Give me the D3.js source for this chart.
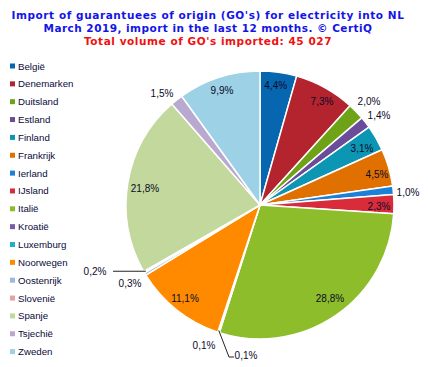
<!DOCTYPE html>
<html><head><meta charset="utf-8">
<script src="https://cdn.jsdelivr.net/npm/d3@7"></script>
<style>body{margin:0;background:#fff}svg{display:block}</style>
</head><body>
<svg id="c" width="428" height="367"></svg>
<script>
const categories = ["België","Denemarken","Duitsland","Estland","Finland","Frankrijk","Ierland","IJsland","Italië","Kroatië","Luxemburg","Noorwegen","Oostenrijk","Slovenië","Spanje","Tsjechië","Zweden"];
const shares = [4.4,7.3,2.0,1.4,3.1,4.5,1.0,2.3,28.8,0.1,0.1,11.1,0.3,0.2,21.8,1.5,9.9];
const labels = ["4,4%","7,3%","2,0%","1,4%","3,1%","4,5%","1,0%","2,3%","28,8%","0,1%","0,1%","11,1%","0,3%","0,2%","21,8%","1,5%","9,9%"];
const colors = ["#0766b0","#b3242f","#6fa317","#6b4c9a","#0d96b4","#e07000","#1b80d6","#d92c3b","#8dbd2a","#7b5aa6","#20b0cc","#ff8a00","#9bb9e0","#e3a3a3","#c3d89c","#b9a9d1","#9dd1e6"];
const titleLines = ["Import of guarantuees of origin (GO's) for electricity into NL","March 2019, import in the last 12 months. © CertiQ","Total volume of GO's imported: 45 027"];

const svg = d3.select("#c");
svg.append("rect").attr("width",428).attr("height",367).attr("fill","#fff");

// title
const tW = [393,329,248], tY=[19,32,45], tC=["#1414e6","#1414e6","#f01010"];
titleLines.forEach((t,i)=>{
  const el = svg.append("text").attr("x",208).attr("y",tY[i]).attr("text-anchor","middle")
    .attr("font-family","DejaVu Sans, Verdana, sans-serif").attr("font-weight","bold")
    .attr("font-size",10.5).attr("fill",tC[i]).text(t);
  const w = el.node().getComputedTextLength();
  el.attr("letter-spacing", ((tW[i]-w)/(t.length)).toFixed(3)+"px");
});

// pie
const cx=260, cy=205, R=134;
const pie = d3.pie().sort(null).value(d=>d)(shares);
const arc = d3.arc().innerRadius(0).outerRadius(R);
const g = svg.append("g").attr("transform",`translate(${cx},${cy})`);
g.selectAll("path").data(pie).join("path")
  .attr("d",arc).attr("fill",(d,i)=>colors[i]).attr("stroke","#fff").attr("stroke-width",1.5).attr("stroke-linejoin","round");

const labelPos = {
  0:[275.7,85],1:[322,101],2:[369,101],3:[379,115],4:[362,148],5:[377,174],6:[408,192],7:[379,206],
  8:[330,298],9:[204,345],10:[246,355],11:[185,298],12:[130,283],13:[95,271],14:[145,188],15:[162,93],16:[222,90]
};
const fontL = "Liberation Sans, Arial, sans-serif";
labels.forEach((t,i)=>{
  const p = labelPos[i];
  svg.append("text").attr("x",p[0]).attr("y",p[1]+3.5).attr("text-anchor","middle")
    .attr("font-family",fontL).attr("font-size",10).attr("fill","#0a0a28").text(t);
});
function edge(i, rr){ const a=(pie[i].startAngle+pie[i].endAngle)/2; return [cx+rr*Math.sin(a), cy-rr*Math.cos(a)]; }
const e10 = edge(10, R-2);
svg.append("path").attr("d",`M${e10[0]},${e10[1]}L229,357L234,357`).attr("fill","none").attr("stroke","#222").attr("stroke-width",1);
const e13 = edge(13, R-2);
svg.append("path").attr("d",`M${e13[0]},${e13[1]}L113,${e13[1]}`).attr("fill","none").attr("stroke","#222").attr("stroke-width",1);

const lg = svg.append("g");
categories.forEach((c,i)=>{
  const y = 66 + i*17.85;
  lg.append("rect").attr("x",10).attr("y",y-2.5).attr("width",5).attr("height",5).attr("fill",colors[i]);
  lg.append("text").attr("x",18).attr("y",y+3.5).attr("font-family",fontL).attr("font-size",9.7).attr("fill","#0a0a3a").text(c);
});
</script>
</body></html>
